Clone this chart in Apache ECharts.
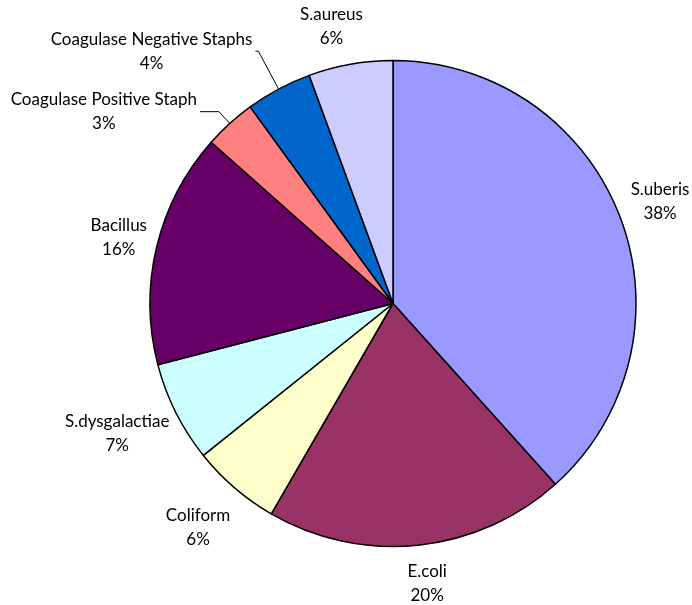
<!DOCTYPE html>
<html><head><meta charset="utf-8">
<script src="https://cdn.jsdelivr.net/npm/echarts@6/dist/echarts.min.js"></script>
<style>html,body{margin:0;padding:0;background:#fff}#chart{width:692px;height:605px}</style>
</head><body><div id="chart"></div>
<script>
// ---- data ----
const categories = ['S.uberis', 'E.coli', 'Coliform', 'S.dysgalactiae', 'Bacillus',
  'Coagulase Positive Staph', 'Coagulase Negative Staphs', 'S.aureus'];
const shares = [38.35, 20.0, 5.9, 6.7, 15.6, 3.45, 4.4, 5.6];

// ---- styling ----
const colors = ['#9999FF', '#993366', '#FFFFCC', '#CCFFFF', '#660066', '#FF8080', '#0066CC', '#CCCCFF'];
const labelGap = [43, 39, 53, 60, 39, 16, 43, 40];   // radial distance of label beyond rim
const leaderLen2 = [0, 0, 0, 0, 0, 19, 3, 0];
const hasLeader = [false, false, false, false, false, true, true, false];
const labelNudgeX = [0, 5, -2, -5, 0, 0, 0, -12];
const labelNudgeY = [0, 0, 0, -6, 0, 0, 0, 2];

const chart = echarts.init(document.getElementById('chart'), null, { renderer: 'canvas' });
const data = categories.map((name, i) => ({
  name: name,
  value: shares[i],
  itemStyle: { color: colors[i] },
  label: { distanceToLabelLine: hasLeader[i] ? 3 : 0 },
  labelLine: { show: hasLeader[i], length: labelGap[i], length2: leaderLen2[i] }
}));

chart.setOption({
  animation: false,
  series: [{
    type: 'pie',
    center: [393, 303.5],
    radius: 243,
    startAngle: 90,
    clockwise: true,
    avoidLabelOverlap: false,
    itemStyle: { borderColor: '#000', borderWidth: 1.5 },
    label: {
      show: true,
      position: 'outside',
      formatter: p => '{t|' + p.name + '}\n{t|' + Math.round(p.percent) + '%}',
      rich: { t: { align: 'center', fontFamily: 'Lato', fontSize: 17, lineHeight: 24, color: '#000' } }
    },
    labelLine: { lineStyle: { color: '#000', width: 1 } },
    labelLayout: function (p) {
      const i = p.dataIndex;
      if (hasLeader[i]) return {};
      const o = { align: 'center' };
      if (labelNudgeX[i]) o.dx = labelNudgeX[i];
      if (labelNudgeY[i]) o.dy = labelNudgeY[i];
      return o;
    },
    emphasis: { disabled: true },
    data: data
  }]
});
</script>
</body></html>
